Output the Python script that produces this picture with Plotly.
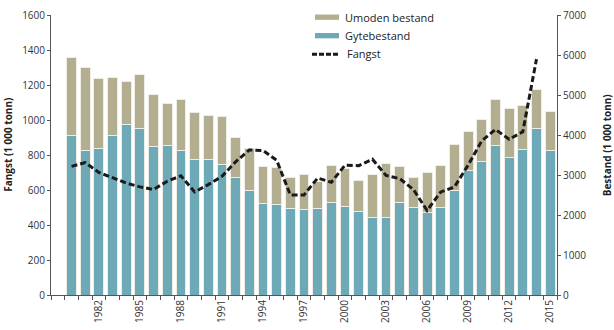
import plotly.graph_objects as go

years = list(range(1980, 2016))
# Bestand (1 000 tonn)
gytebestand = [4000, 3605, 3655, 4000, 4260, 4155, 3720, 3740, 3625, 3395,
               3395, 3265, 2940, 2615, 2295, 2275, 2155, 2130, 2155, 2315,
               2220, 2090, 1950, 1950, 2325, 2180, 2075, 2195, 2615, 3110,
               3330, 3730, 3450, 3635, 4155, 3615]
totalbestand = [5945, 5680, 5420, 5450, 5330, 5525, 5025, 4785, 4890, 4570,
                4485, 4465, 3940, 3655, 3205, 3195, 2940, 3005, 2845, 3245,
                3170, 2855, 3005, 3280, 3205, 2940, 3070, 3240, 3760, 4080,
                4385, 4890, 4670, 4730, 5135, 4585]
umoden = [t - g for t, g in zip(totalbestand, gytebestand)]
# Fangst (1 000 tonn)
fangst_years = list(range(1980, 2015))
fangst = [735, 757, 700, 668, 640, 618, 603, 650, 681, 589,
          631, 678, 761, 829, 826, 770, 572, 572, 668, 644,
          742, 739, 776, 683, 665, 603, 483, 589, 617, 742,
          881, 946, 890, 933, 1348]

tick_years = list(range(1982, 2016, 3))

C_GYTE = "#6ea9b7"
C_UMOD = "#b3ae8f"
FONT = "Open Sans"

fig = go.Figure()
fig.add_trace(go.Bar(x=years, y=gytebestand, name="Gytebestand", marker=dict(color=C_GYTE, line=dict(color="#eeede6", width=1)), width=0.72, yaxis="y"))
fig.add_trace(go.Bar(x=years, y=umoden, name="Umoden bestand", marker=dict(color=C_UMOD, line=dict(color="#eeede6", width=1)), width=0.72, yaxis="y"))
fig.add_trace(go.Scatter(x=fangst_years, y=fangst, name="Fangst", mode="lines", line=dict(color="#1a1a1a", width=3, dash="6px,3px"), yaxis="y2"))

L, R, T, B = 51, 57, 7, 35
W, H = 614, 330
pw, ph = W - L - R, H - T - B

def px(x):
    return (x - L) / pw

def py(y):
    return (H - B - y) / ph

axcol = "#555555"
fig.update_layout(
    width=W, height=H, margin=dict(l=L, r=R, t=T, b=B),
    paper_bgcolor="white", plot_bgcolor="white",
    barmode="stack", bargap=0.28, showlegend=False,
    font=dict(family=FONT, size=10, color="#333333"),
    xaxis=dict(range=[1978.5, 2015.5], tickvals=tick_years, ticktext=[str(y) for y in tick_years],
               tickangle=-90, ticks="", showline=True, linecolor=axcol, linewidth=1,
               showgrid=False, zeroline=False, ticklabeloverflow="allow",
               minor=dict(tickvals=[y - 0.5 for y in range(1979, 2017)], ticks="outside", ticklen=4, tickcolor=axcol, showgrid=False)),
    yaxis=dict(range=[0, 7000], dtick=1000, side="right", ticks="outside", ticklen=3, tickcolor=axcol,
               showline=True, linecolor=axcol, linewidth=1, showgrid=False, zeroline=False,
               ticklabeloverflow="allow"),
    yaxis2=dict(range=[0, 1600], dtick=200, side="left", overlaying="y", ticks="outside", ticklen=3, tickcolor=axcol,
                showline=True, linecolor=axcol, linewidth=1, showgrid=False, zeroline=False,
                ticklabeloverflow="allow"),
)

# axis titles
fig.add_annotation(text="<b>Fangst (1 000 tonn)</b>", textangle=-90, xref="paper", yref="paper",
                   x=px(8.5), y=py(141), xanchor="center", yanchor="middle", showarrow=False,
                   font=dict(family=FONT, size=10, color="#222222"))
fig.add_annotation(text="<b>Bestand (1 000 tonn)</b>", textangle=-90, xref="paper", yref="paper",
                   x=px(607), y=py(141), xanchor="center", yanchor="middle", showarrow=False,
                   font=dict(family=FONT, size=10, color="#222222"))

# custom legend
fig.add_shape(type="rect", xref="paper", yref="paper", x0=px(315), x1=px(339), y0=py(12), y1=py(6.5),
              fillcolor=C_UMOD, line=dict(width=0))
fig.add_shape(type="rect", xref="paper", yref="paper", x0=px(315), x1=px(339), y0=py(31), y1=py(25.5),
              fillcolor=C_GYTE, line=dict(width=0))
fig.add_shape(type="line", xref="paper", yref="paper", x0=px(312), x1=px(338), y0=py(47.3), y1=py(47.3),
              line=dict(color="#1a1a1a", width=3, dash="5px,2px"))
for label, x, y in [("Umoden bestand", 342.5, 9.3), ("Gytebestand", 342.5, 28), ("Fangst", 345, 46.7)]:
    fig.add_annotation(text=label, xref="paper", yref="paper", x=px(x), y=py(y), xanchor="left", yanchor="middle",
                       showarrow=False, font=dict(family=FONT, size=11, color="#222222"))

fig.write_html("out.html")
